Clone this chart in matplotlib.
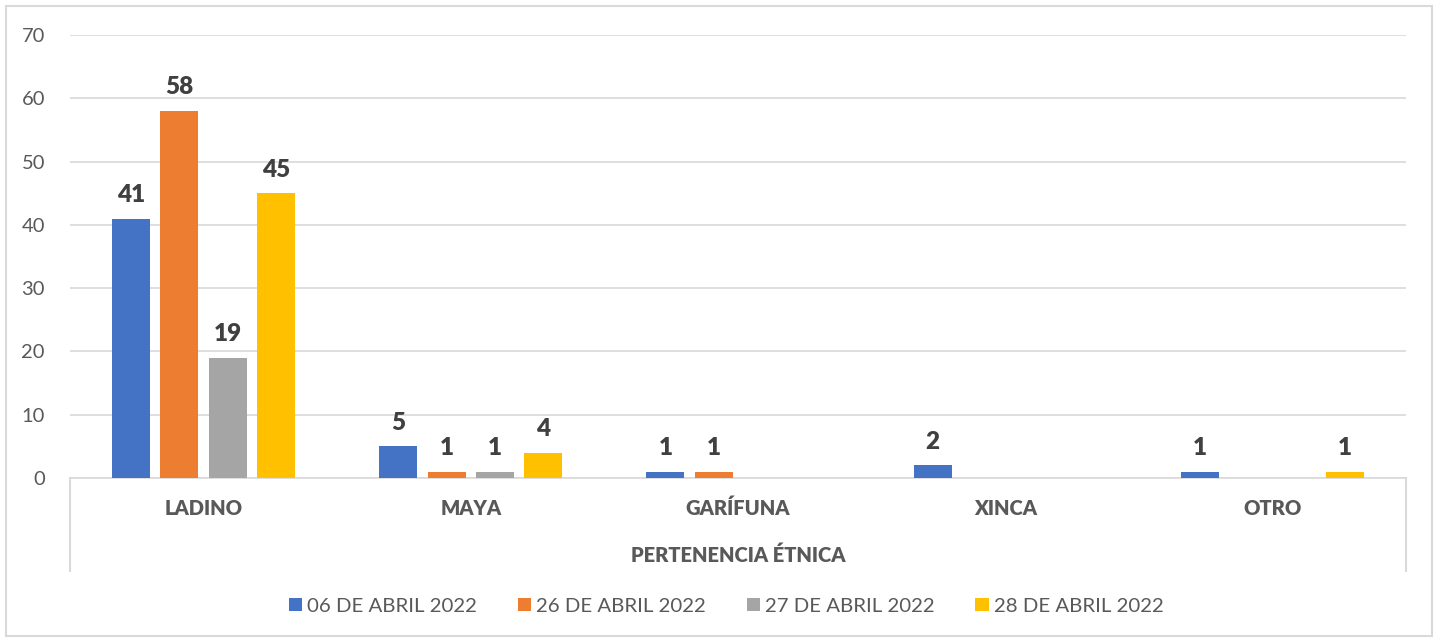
import matplotlib.pyplot as plt
import numpy as np

plt.rcParams["font.family"] = ["Lato", "DejaVu Sans"]

categorias = ["LADINO", "MAYA", "GARÍFUNA", "XINCA", "OTRO"]
fechas = ["06 DE ABRIL 2022", "26 DE ABRIL 2022", "27 DE ABRIL 2022", "28 DE ABRIL 2022"]
abr06 = [41, 5, 1, 2, 1]
abr26 = [58, 1, 1, 0, 0]
abr27 = [19, 1, 0, 0, 0]
abr28 = [45, 4, 0, 0, 1]
colores = ["#4472C4", "#ED7D31", "#A5A5A5", "#FFC000"]

series = [abr06, abr26, abr27, abr28]
x = np.arange(len(categorias))
width = 0.142
step = 0.181

fig = plt.figure(figsize=(14.4, 6.42), dpi=100)
ax = fig.add_axes([70 / 1440, 1 - 478 / 642, 1336 / 1440, 443 / 642])

for i, (vals, name, col) in enumerate(zip(series, fechas, colores)):
    pos = x + (i - 1.5) * step
    vals = np.array(vals)
    ax.bar(pos, vals, width, color=col, label=name, zorder=3)
    for p, v in zip(pos, vals):
        if v > 0:
            ax.text(p, v + 2.0, str(v), ha="center", va="bottom", fontsize=17.5,
                    fontweight="heavy", color="#404040")

ax.set_xlim(-0.5, len(categorias) - 0.5)
ax.set_ylim(0, 70)
ax.set_yticks(range(0, 71, 10))
ax.yaxis.grid(True, color="#D9D9D9", linewidth=1.2, zorder=0)
ax.tick_params(axis="y", length=0, labelsize=14.5, labelcolor="#595959", pad=18)
ax.set_xticks(x)
ax.set_xticklabels(categorias, fontsize=14.5, fontweight="heavy", color="#595959")
ax.tick_params(axis="x", length=0, pad=15)
for s in ["left", "right", "top"]:
    ax.spines[s].set_visible(False)
ax.spines["bottom"].set_color("#D9D9D9")
ax.spines["bottom"].set_linewidth(1.2)

# lineas del eje de varios niveles
for xp in [70, 1406]:
    fig.add_artist(plt.Line2D([xp / 1440, xp / 1440], [1 - 478 / 642, 1 - 571 / 642],
                              color="#D9D9D9", linewidth=1.5))
fig.text(738 / 1440, 1 - 555 / 642, "PERTENENCIA ÉTNICA", ha="center", va="center",
         fontsize=14.5, fontweight="heavy", color="#595959")

leg = fig.legend(loc="center", bbox_to_anchor=(726 / 1440, 1 - 606 / 642), ncol=4,
                 frameon=False, fontsize=14.7, handlelength=0.65, handleheight=0.65,
                 handletextpad=0.25, columnspacing=2.0)
for t in leg.get_texts():
    t.set_color("#595959")

fig.add_artist(plt.Rectangle((6 / 1440, 6 / 642), 1426 / 1440, 630 / 642, fill=False,
                             edgecolor="#D9D9D9", linewidth=1.5, transform=fig.transFigure))

fig.savefig("out.png", dpi=100)
